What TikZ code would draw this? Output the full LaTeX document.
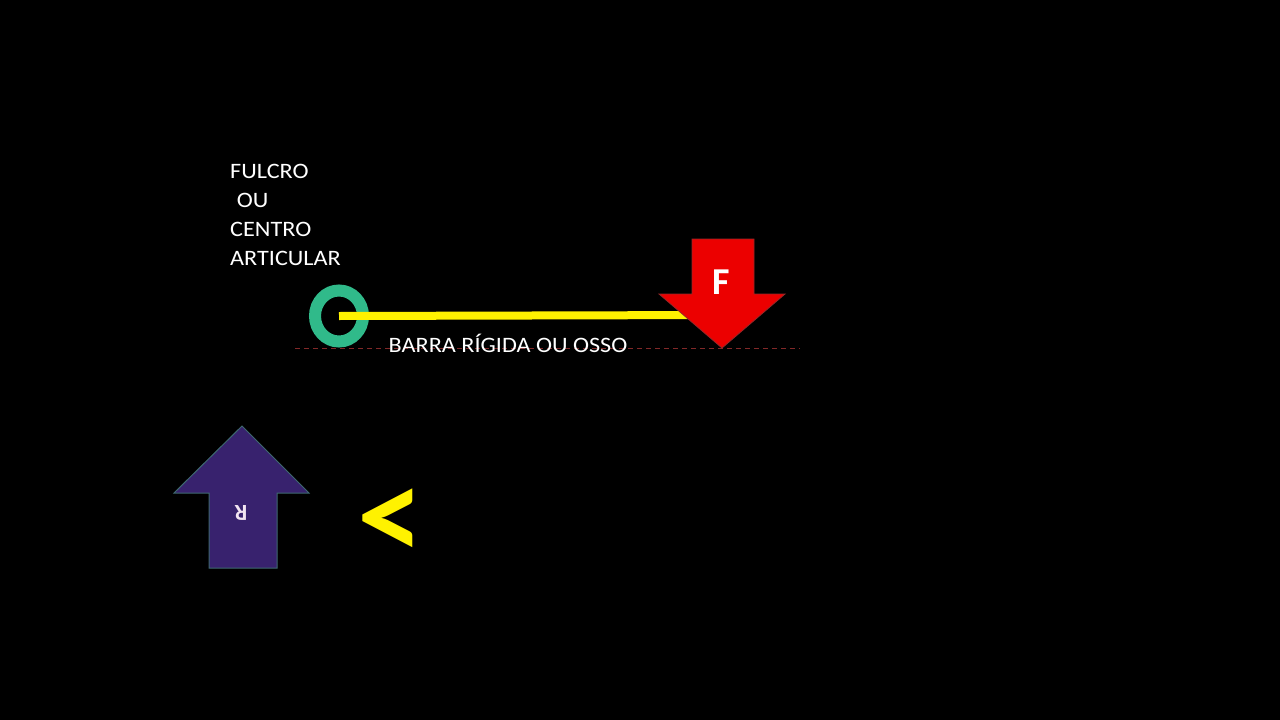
\documentclass[tikz,border=0pt]{standalone}
\usepackage{fontspec}
\setmainfont{Carlito}
\usepackage{tikz}
\definecolor{ringgreen}{RGB}{48,186,138}
\definecolor{forcered}{RGB}{236,0,0}
\definecolor{forceedge}{RGB}{150,40,40}
\definecolor{reactpurple}{RGB}{56,34,110}
\definecolor{reactedge}{RGB}{62,104,112}
\definecolor{dashred}{RGB}{130,40,40}

\begin{document}
\begin{tikzpicture}[x=1pt, y=-1pt,
    lbl/.style={text=white, inner sep=0pt, xscale=1.1, font=\fontsize{22}{29}\selectfont},
    bigletter/.style={text=white, inner sep=0pt, font=\bfseries}]
  \fill[black] (0,0) rectangle (1280,720);
  \useasboundingbox (0,0) rectangle (1280,720);
  \coordinate (pivot) at (339,316);
  \coordinate (load) at (722,315);
  \coordinate (baseA) at (295,348);
  \coordinate (baseB) at (800,348);
  \draw[dashred, line width=1pt, dash pattern=on 5pt off 4pt] (baseA) -- (baseB);
  \draw[ringgreen, line width=12pt] (pivot) ellipse [x radius=24, y radius=25.5];
  \draw[yellow, line width=8pt] (pivot) -- (load);
  \filldraw[fill=forcered, draw=forceedge, line width=0.8pt]
    (692,239) -- (754,239) -- (754,294) -- (785,294) -- (722,348)
    -- (659,294) -- (692,294) -- cycle;
  \node[bigletter, font=\fontsize{38}{38}\selectfont\bfseries] (forcelabel) at (721,282) {F};
  \filldraw[fill=reactpurple, draw=reactedge, line width=1pt]
    (209,568) -- (277,568) -- (277,493) -- (309,493) -- (242,426)
    -- (174,493) -- (209,493) -- cycle;
  \node[bigletter, text=white!90!violet, font=\fontsize{23}{23}\selectfont\bfseries, rotate=180] (reactlabel) at (241,513) {R};
  \node[lbl, anchor=north west, align=left] (fulcrum) at (230,164)
    {FULCRO\\\hspace{6pt}OU\\CENTRO\\ARTICULAR};
  \node[lbl] (barlabel) at (508,343) {BARRA RÍGIDA OU OSSO};
  \node[text=yellow, inner sep=0pt, font=\fontsize{133}{133}\selectfont\bfseries] (lessthan) at (391,525) {<};
\end{tikzpicture}
\end{document}
